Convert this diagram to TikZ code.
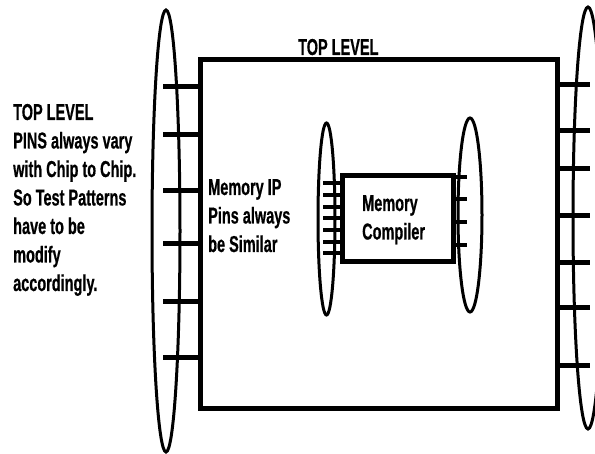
\documentclass[tikz,border=0pt]{standalone}
\usepackage{fontspec}
\setmainfont[FakeStretch=0.63,BoldFeatures={FakeBold=0.6}]{Liberation Sans}
\usetikzlibrary{shapes.geometric}
\begin{document}
\begin{tikzpicture}[x=1pt,y=-1pt,
  box/.style={draw,line width=5pt,rectangle,inner sep=0pt,minimum width=#1},
  ring/.style={draw,line width=3pt,ellipse,inner sep=0pt},
  pin/.style={line width=5pt},
  spin/.style={line width=4pt},
  lbl/.style={font=\fontsize{23}{28.5}\selectfont\bfseries,inner sep=0pt,anchor=base west}]
\useasboundingbox (0,0) rectangle (595,454);
% outer chip
\node[box=357pt,minimum height=349pt] (top) at (378.5,234.5) {};
\node[box=111pt,minimum height=86pt] (mem) at (397.5,218.5) {};
% ellipses
\node[ring,minimum width=28pt,minimum height=442pt] (lring) at (166,231) {};
\node[ring,minimum width=30pt,minimum height=422pt] (rring) at (588,218) {};
\node[ring,minimum width=17pt,minimum height=192pt] (ilring) at (326.5,219) {};
\node[ring,minimum width=24pt,minimum height=194pt] (irring) at (470,215) {};
% outer pins
\foreach \y in {87,135,191,244,302,358}
  \draw[pin] (top.west |- 0,\y) -- (163,\y);
\foreach \y in {85,131,169,216,263,308,366}
  \draw[pin] (top.east |- 0,\y) -- (590,\y);
% memory pins
\foreach \y in {183,195,207,218,230,242,253}
  \draw[spin] (mem.west |- 0,\y) -- (323,\y);
\foreach \y in {177,199,222,245}
  \draw[spin] (mem.east |- 0,\y) -- (467,\y);
% texts
\node[lbl] (ttop) at (298,55) {TOP LEVEL};
\node[lbl] (tleft) at (13,120) {\begin{tabular}[t]{@{}l@{}}TOP LEVEL\\PINS always vary\\with Chip to Chip.\\So Test Patterns\\have to be\\modify\\accordingly.\end{tabular}};
\node[lbl] (tip) at (208,195) {\begin{tabular}[t]{@{}l@{}}Memory IP\\Pins always\\be Similar\end{tabular}};
\node[lbl] (tmem) at (362,211) {\begin{tabular}[t]{@{}l@{}}Memory\\Compiler\end{tabular}};
\end{tikzpicture}
\end{document}
